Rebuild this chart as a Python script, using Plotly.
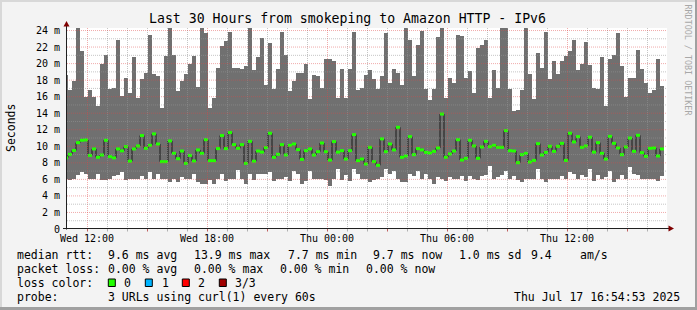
import plotly.graph_objects as go

# ---------------- data ----------------
TITLE = "Last 30 Hours from smokeping to Amazon HTTP - IPv6"
X_TICK_HOURS = [1, 7, 13, 19, 25]          # hours after Wed 11:00
X_TICK_LABELS = ["Wed 12:00", "Wed 18:00", "Thu 00:00", "Thu 06:00", "Thu 12:00"]
Y_TICK_VALUES = list(range(0, 25, 2))
Y_TICK_LABELS = ["0"] + [f"{v} m" for v in range(2, 25, 2)]
STEP_HOURS = 0.2          # 12-minute consolidation step
FIRST_CENTER = -0.05      # centre of first (partially visible) step

max_ms = [18.6, 16.75, 17.85, 24.5, 21.5, 15.95, 16.75, 15.95, 14.85, 20.0,
          21.1, 16.9, 17.1, 22.8, 16.1, 18.25, 16.4, 20.8, 15.8, 18.1,
          18.9, 23.4, 18.75, 18.45, 14.6, 20.9, 24.5, 21.1, 16.7, 17.85,
          18.7, 19.9, 20.9, 17.2, 24.5, 23.7, 14.6, 15.9, 19.5, 22.1,
          22.7, 23.8, 19.5, 19.45, 19.35, 19.7, 24.5, 19.2, 20.8, 23.1,
          17.4, 22.5, 16.9, 19.35, 23.8, 21.0, 16.7, 17.85, 18.9, 18.9,
          20.0, 15.7, 18.6, 18.45, 17.1, 20.6, 20.5, 20.3, 15.8, 19.4,
          15.9, 19.3, 23.8, 16.8, 17.1, 18.6, 19.2, 18.1, 16.9, 18.45,
          23.7, 17.7, 19.3, 18.9, 17.4, 24.5, 22.8, 18.45, 22.2, 23.9,
          16.9, 15.6, 16.9, 23.2, 24.5, 15.9, 18.2, 17.6, 23.4, 23.3,
          18.2, 19.05, 16.4, 21.85, 22.2, 22.8, 15.8, 19.2, 17.0, 24.5,
          24.5, 16.9, 14.3, 14.45, 16.75, 24.5, 18.7, 15.7, 21.25, 19.5,
          23.8, 18.1, 20.3, 18.7, 20.3, 20.9, 21.5, 22.8, 19.2, 19.9,
          22.6, 19.8, 17.0, 16.9, 20.8, 14.85, 20.6, 21.1, 23.7, 19.7,
          16.0, 18.3, 18.3, 21.6, 19.4, 17.7, 16.4, 16.75, 20.5, 17.25]

min_ms = [6.1, 5.9, 6.1, 6.55, 6.85, 6.6, 6.1, 6.0, 6.6, 5.9,
          5.9, 6.1, 6.35, 6.5, 6.85, 5.9, 6.1, 6.1, 6.1, 6.35,
          6.0, 6.85, 6.1, 6.6, 6.1, 6.0, 5.65, 6.0, 5.65, 6.25,
          6.0, 6.0, 6.7, 5.65, 5.4, 5.4, 5.9, 5.5, 6.1, 6.7,
          5.75, 6.1, 6.1, 7.1, 6.0, 5.5, 6.7, 5.9, 6.6, 6.7,
          6.7, 6.85, 5.75, 6.0, 6.1, 6.3, 5.75, 6.97, 6.6, 5.5,
          5.75, 6.97, 6.1, 6.1, 6.0, 5.9, 5.15, 6.0, 7.3, 5.9,
          6.5, 5.75, 7.2, 6.6, 6.1, 6.0, 5.65, 5.9, 6.1, 6.25,
          7.2, 6.7, 7.05, 6.1, 5.65, 5.65, 6.6, 6.35, 6.97, 6.1,
          6.7, 6.1, 5.5, 6.25, 6.0, 5.75, 6.3, 6.1, 6.1, 6.35,
          5.75, 6.35, 6.1, 5.9, 6.35, 6.5, 7.65, 6.1, 6.25, 6.5,
          6.97, 6.1, 6.35, 5.9, 5.65, 6.1, 6.1, 6.0, 7.3, 6.0,
          5.65, 6.1, 6.1, 6.1, 6.45, 6.0, 6.85, 6.6, 6.1, 6.5,
          6.25, 7.2, 5.75, 6.55, 6.1, 6.25, 7.05, 5.65, 6.1, 6.55,
          6.1, 7.55, 6.6, 6.5, 6.0, 6.0, 6.1, 6.1, 5.75, 6.45]

median_ms = [8.63, 9.03, 9.5, 10.44, 10.73, 10.77, 8.9, 9.68, 8.67, 8.95,
             10.73, 8.75, 8.6, 9.68, 9.45, 9.96, 8.2, 9.68, 10.04, 11.3,
             9.76, 10.12, 11.5, 10.28, 8.14, 8.14, 10.65, 9.15, 8.5, 9.43,
             7.94, 8.9, 8.22, 9.56, 9.15, 10.8, 8.26, 8.26, 9.72, 11.3,
             9.72, 11.66, 10.2, 9.76, 10.2, 7.94, 10.6, 8.2, 9.43, 9.3,
             9.84, 11.58, 8.67, 9.03, 10.2, 8.95, 10.12, 10.28, 9.6, 8.42,
             9.47, 9.68, 8.95, 9.35, 10.4, 9.35, 8.34, 10.57, 9.3, 9.47,
             8.46, 9.47, 11.41, 8.26, 8.46, 7.86, 9.88, 8.14, 7.7, 10.9,
             9.35, 10.28, 9.56, 12.3, 8.67, 8.83, 11.17, 8.99, 9.72, 9.56,
             9.27, 9.19, 9.39, 9.8, 13.9, 8.67, 9.07, 9.43, 10.8, 8.34,
             8.55, 10.73, 10.04, 8.55, 9.92, 10.6, 9.96, 10.12, 9.88, 9.88,
             11.9, 9.47, 9.43, 8.02, 8.99, 9.15, 8.1, 8.3, 10.32, 8.95,
             9.27, 10.0, 9.39, 10.0, 10.36, 8.3, 11.58, 10.53, 11.17, 9.88,
             10.04, 11.1, 9.3, 10.44, 9.15, 8.46, 11.2, 10.36, 9.8, 8.99,
             9.92, 11.0, 9.39, 11.33, 9.23, 8.79, 9.76, 9.8, 8.83, 9.68]

legend_rows = [
    [("median rtt:", 16), ("9.6 ms avg", 107.3), ("13.9 ms max", 193.3), ("7.7 ms min", 286.7),
     ("9.7 ms now", 372.3), ("1.0 ms sd", 458.3), ("9.4", 530.3), ("am/s", 579.3)],
    [("packet loss:", 16), ("0.00 % avg", 107.3), ("0.00 % max", 193.3), ("0.00 % min", 279.3),
     ("0.00 % now", 365)],
    [("loss color:", 16), ("0", 123.3), ("1", 160.7), ("2", 197.3), ("3/3", 234)],
    [("probe:", 16), ("3 URLs using curl(1) every 60s", 107.3)],
]
legend_row_y = [254.5, 268.5, 282.5, 296.5]
loss_colors = ["#22ff00", "#00b4ff", "#ff0000", "#a10000"]
loss_box_x = [108.3, 145.3, 182.3, 219.3]
date_text = "Thu Jul 17 16:54:53 2025"

# ---------------- geometry (pixels) ----------------
W, H = 697, 310
L, R, T, B = 67, 30, 28, 81
PW, PH = W - L - R, H - T - B
MONO = "DejaVu Sans Mono"


def pxx(x):
    return (x - L) / PW


def pxy(y):
    return (H - B - y) / PH


n = len(max_ms)
centers = [FIRST_CENTER + STEP_HOURS * i for i in range(n)]
starts = [c - STEP_HOURS / 2 for c in centers]
ends = [c + STEP_HOURS / 2 for c in centers]

fig = go.Figure()
fig.add_trace(go.Bar(
    x=centers, y=[a - b for a, b in zip(max_ms, min_ms)], base=min_ms,
    width=STEP_HOURS, marker=dict(color="#707070", line=dict(width=0)),
    hoverinfo="skip", showlegend=False))

fig.add_trace(go.Scatter(
    x=starts + [ends[-1]], y=median_ms + [median_ms[-1]], mode="lines",
    line=dict(color="#1a1a1a", width=1, shape="hv"), hoverinfo="skip", showlegend=False))

gx, gy = [], []
for s, e, m in zip(starts, ends, median_ms):
    gx += [s, e, None]
    gy += [m, m, None]
fig.add_trace(go.Scatter(x=gx, y=gy, mode="lines",
                         line=dict(color="#22ff00", width=3),
                         hoverinfo="skip", showlegend=False))

shapes = []
MINOR = "rgba(150,150,150,0.55)"
MAJOR = "rgba(225,70,70,0.45)"
half_px_h = 0.5 / PW * 30
for h in range(1, 30):
    shapes.append(dict(type="line", xref="x", yref="paper", x0=h + half_px_h, x1=h + half_px_h,
                       y0=0, y1=1, layer="above",
                       line=dict(color=MAJOR if h in X_TICK_HOURS else MINOR, width=1, dash="1px,1px")))
for v in range(1, 25):
    shapes.append(dict(type="line", xref="paper", yref="y", x0=0, x1=1, y0=v, y1=v, layer="above",
                       line=dict(color=MAJOR if v % 2 == 0 else MINOR, width=1, dash="1px,1px")))

# axes and arrows
AX = "#202020"
ARROW = "#7f0000"
shapes.append(dict(type="line", xref="paper", yref="paper", x0=pxx(66.5), x1=pxx(66.5),
                   y0=pxy(229.5), y1=pxy(25), line=dict(color=AX, width=1), layer="above"))
shapes.append(dict(type="line", xref="paper", yref="paper", x0=pxx(63), x1=pxx(669),
                   y0=pxy(228.5), y1=pxy(228.5), line=dict(color=AX, width=1), layer="above"))
# small ticks below x axis
for h in range(1, 30):
    xp = L + h * PW / 30 + 0.5
    col = "#c06060" if h % 3 == 1 else "#b0b0b0"
    shapes.append(dict(type="line", xref="paper", yref="paper", x0=pxx(xp), x1=pxx(xp),
                       y0=pxy(229), y1=pxy(231.5), line=dict(color=col, width=1), layer="above"))


def tri(points):
    p = "M " + " L ".join(f"{pxx(a)},{pxy(b)}" for a, b in points) + " Z"
    return p


shapes.append(dict(type="path", xref="paper", yref="paper",
                   path=tri([(66.5, 21), (63.5, 26.5), (69.5, 26.5)]),
                   fillcolor=ARROW, line=dict(width=0), layer="above"))
shapes.append(dict(type="path", xref="paper", yref="paper",
                   path=tri([(674, 228.5), (668.5, 225.5), (668.5, 231.5)]),
                   fillcolor=ARROW, line=dict(width=0), layer="above"))

# loss color boxes
for c, bx in zip(loss_colors, loss_box_x):
    shapes.append(dict(type="rect", xref="paper", yref="paper",
                       x0=pxx(bx), x1=pxx(bx + 7), y0=pxy(279), y1=pxy(286.5),
                       fillcolor=c, line=dict(color="#000000", width=1)))

# image bevel frame
shapes += [
    dict(type="rect", xref="paper", yref="paper", x0=pxx(0), x1=pxx(W), y0=pxy(0), y1=pxy(2),
         fillcolor="#d8d8d8", line=dict(width=0)),
    dict(type="rect", xref="paper", yref="paper", x0=pxx(0), x1=pxx(2), y0=pxy(0), y1=pxy(H),
         fillcolor="#d8d8d8", line=dict(width=0)),
    dict(type="rect", xref="paper", yref="paper", x0=pxx(0), x1=pxx(W), y0=pxy(H - 3), y1=pxy(H),
         fillcolor="#a0a0a0", line=dict(width=0)),
    dict(type="rect", xref="paper", yref="paper", x0=pxx(W - 2), x1=pxx(W), y0=pxy(0), y1=pxy(H),
         fillcolor="#a0a0a0", line=dict(width=0)),
]

annotations = []
for row, yrow in zip(legend_rows, legend_row_y):
    for text, xp in row:
        annotations.append(dict(text=text, xref="paper", yref="paper", x=pxx(xp), y=pxy(yrow),
                                xanchor="left", yanchor="middle", showarrow=False, borderpad=0,
                                font=dict(family=MONO, size=11.5, color="#000000")))
annotations.append(dict(text=date_text, xref="paper", yref="paper", x=pxx(681), y=pxy(296.5),
                        xanchor="right", yanchor="middle", showarrow=False, borderpad=0,
                        font=dict(family=MONO, size=11.5, color="#000000")))
annotations.append(dict(text="Seconds", xref="paper", yref="paper", x=pxx(11), y=pxy(128),
                        xanchor="center", yanchor="middle", textangle=-90, showarrow=False,
                        font=dict(family=MONO, size=11.5, color="#000000")))
annotations.append(dict(text="RRDTOOL / TOBI OETIKER", xref="paper", yref="paper",
                        x=pxx(687.5), y=pxy(60), xanchor="center", yanchor="middle",
                        textangle=90, showarrow=False,
                        font=dict(family=MONO, size=8.4, color="#a8a8a8")))

fig.update_layout(
    width=W, height=H,
    margin=dict(l=L, r=R, t=T, b=B, pad=0),
    paper_bgcolor="#f3f3f3", plot_bgcolor="#ffffff",
    bargap=0, barmode="overlay",
    title=dict(text=TITLE, x=347.5 / W, xref="container", y=1 - 18 / H, yref="container",
               xanchor="center", yanchor="middle",
               font=dict(family=MONO, size=13.2, color="#000000")),
    xaxis=dict(range=[0, 30], showgrid=False, zeroline=False, showline=False,
               tickvals=X_TICK_HOURS, ticktext=X_TICK_LABELS, ticks="", ticklabelstandoff=2,
               tickfont=dict(family=MONO, size=10, color="#000000"), fixedrange=True),
    yaxis=dict(range=[0, PH / 8.27], showgrid=False, zeroline=False, showline=False,
               tickvals=Y_TICK_VALUES, ticktext=Y_TICK_LABELS, ticks="", ticklabelstandoff=6,
               tickfont=dict(family=MONO, size=10, color="#000000"), fixedrange=True),
    shapes=shapes, annotations=annotations, showlegend=False,
)

fig.write_html("out.html")
